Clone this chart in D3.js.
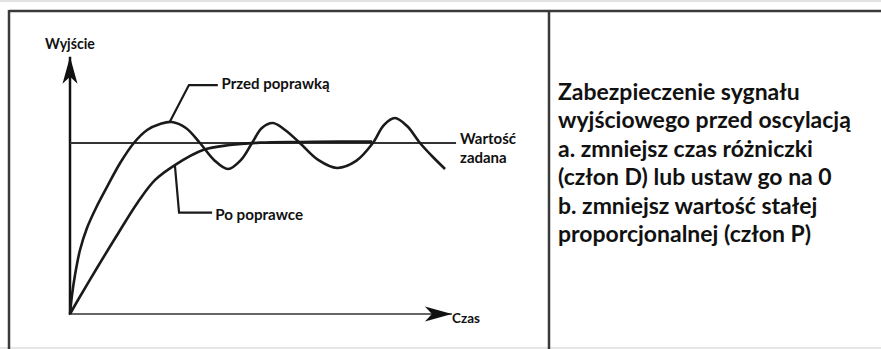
<!DOCTYPE html>
<html><head><meta charset="utf-8">
<script src="https://cdn.jsdelivr.net/npm/d3@7"></script>
<style>html,body{margin:0;padding:0;background:#fff;overflow:hidden}</style>
</head><body>
<svg id="c" width="881" height="349"></svg>
<script>
// ---- data ----
const timeBefore  = [0, 0.53, 1.32, 2.63, 4.47, 6.84, 9.74, 13.2, 16.8, 20.3, 23.7, 26.8, 30.5, 34.2, 37.9, 41.6, 45.0, 47.9, 50.5, 53.4, 56.6, 60.5, 65.3, 70.3, 75.3, 79.7, 82.6, 85.5, 88.7, 92.1, 95.5, 98.7];
const valueBefore = [0, 0.111, 0.228, 0.374, 0.503, 0.620, 0.743, 0.883, 1.0, 1.076, 1.111, 1.123, 1.088, 1.0, 0.901, 0.848, 0.901, 1.0, 1.088, 1.117, 1.076, 1.0, 0.901, 0.854, 0.895, 1.0, 1.105, 1.146, 1.099, 1.0, 0.918, 0.848];
const timeAfter   = [0, 2.1, 7.1, 12.4, 17.9, 22.4, 27.6, 35.0, 42.1, 50.0, 60.5, 71.1, 79.5];
const valueAfter  = [0, 0.082, 0.269, 0.462, 0.655, 0.784, 0.871, 0.959, 0.988, 1.002, 1.006, 1.008, 1.008];
const setpoint = 1.0;
const axisLabels = ["Wyjście", "Czas"];
const seriesLabels = ["Przed poprawką", "Po poprawce"];
const setpointLabel = ["Wartość", "zadana"];
const noteLines = [
  "Zabezpieczenie sygnału",
  "wyjściowego przed oscylacją",
  "a. zmniejsz czas różniczki",
  "(człon D) lub ustaw go na 0",
  "b. zmniejsz wartość stałej",
  "proporcjonalnej (człon P)"
];

// ---- drawing ----
const svg = d3.select("#c");
const FONT = "Lato, 'Open Sans', sans-serif";
const x = d3.scaleLinear().domain([0, 100]).range([70, 450]);
const y = d3.scaleLinear().domain([0, 1]).range([314, 143]);

// frame
svg.append("line").attr("x1",0).attr("x2",881).attr("y1",1).attr("y2",1).attr("stroke","#e2e2e2").attr("stroke-width",2);
svg.append("line").attr("x1",0).attr("x2",881).attr("y1",348).attr("y2",348).attr("stroke","#e6e6e6").attr("stroke-width",2);
svg.append("line").attr("x1",9).attr("x2",881).attr("y1",11).attr("y2",11).attr("stroke","#3a3a3a").attr("stroke-width",2.5);
svg.append("line").attr("x1",9).attr("x2",9).attr("y1",10).attr("y2",349).attr("stroke","#3a3a3a").attr("stroke-width",2.5);
svg.append("line").attr("x1",549).attr("x2",549).attr("y1",10).attr("y2",349).attr("stroke","#3a3a3a").attr("stroke-width",2.5);

// arrow markers
const defs = svg.append("defs");
defs.append("marker").attr("id","arr").attr("markerUnits","userSpaceOnUse")
  .attr("viewBox","-28 -9 30 18").attr("refX",0).attr("refY",0)
  .attr("markerWidth",30).attr("markerHeight",18).attr("orient","auto")
  .append("path").attr("d","M0,0 L-27,-7.5 L-20,0 L-27,7.5 Z").attr("fill","#111");

// axes
const yTop = 1.505, xEnd = 100.5;
svg.append("line").attr("x1",x(0)).attr("x2",x(0)).attr("y1",y(0)+1).attr("y2",y(yTop))
  .attr("stroke","#111").attr("stroke-width",2.5).attr("marker-end","url(#arr)");
svg.append("line").attr("x1",x(0)).attr("x2",x(xEnd)).attr("y1",y(0)).attr("y2",y(0))
  .attr("stroke","#666").attr("stroke-width",2).attr("marker-end","url(#arr)");

// setpoint
svg.append("line").attr("x1",x(0)).attr("x2",x(101.6)).attr("y1",y(setpoint)).attr("y2",y(setpoint))
  .attr("stroke","#333").attr("stroke-width",2);

const line = d3.line().x(d=>x(d[0])).y(d=>y(d[1])).curve(d3.curveCatmullRom.alpha(0.5));
svg.append("path").datum(d3.zip(timeAfter, valueAfter)).attr("d", line)
  .attr("fill","none").attr("stroke","#1a1a1a").attr("stroke-width",2.6).attr("stroke-linejoin","round");
svg.append("path").datum(d3.zip(timeBefore, valueBefore)).attr("d", line)
  .attr("fill","none").attr("stroke","#1a1a1a").attr("stroke-width",2.6).attr("stroke-linejoin","round");

// leaders
const leader = d3.line().x(d=>x(d[0])).y(d=>y(d[1]));
svg.append("path").datum([[26.3,1.126],[31.3,1.339],[38.9,1.339]]).attr("d",leader)
  .attr("fill","none").attr("stroke","#1a1a1a").attr("stroke-width",2.2);
svg.append("path").datum([[27.6,0.871],[28.7,0.593],[37.4,0.593]]).attr("d",leader)
  .attr("fill","none").attr("stroke","#1a1a1a").attr("stroke-width",2.2);

// text fitted to a target width
const txt = (s, px, py, width) => {
  const t = svg.append("text").attr("x",px).attr("y",py)
    .attr("font-family",FONT).attr("font-weight","bold").attr("font-size",20).attr("fill","#111").text(s);
  const w = t.node().getComputedTextLength();
  t.attr("font-size", 20 * width / w);
  return t;
};

txt(seriesLabels[0], x(39.9), 89, 108);
txt(seriesLabels[1], x(38.2), 220, 88);
const wz = txt(setpointLabel[0], 460, 144, 56);
svg.append("text").attr("x",460).attr("y",163).attr("font-family",FONT).attr("font-weight","bold")
  .attr("font-size", wz.attr("font-size")).attr("fill","#111").text(setpointLabel[1]);
txt(axisLabels[0], 45, 49, 50);
txt(axisLabels[1], 452, 323, 28);

const first = txt(noteLines[1], 558, 100 + 28.4, 293);
const fs = first.attr("font-size");
noteLines.forEach((s,i) => { if (i !== 1)
  svg.append("text").attr("x",558).attr("y",100 + i*28.4).attr("font-family",FONT).attr("font-weight","bold")
    .attr("font-size",fs).attr("fill","#111").text(s); });
</script>
</body></html>
